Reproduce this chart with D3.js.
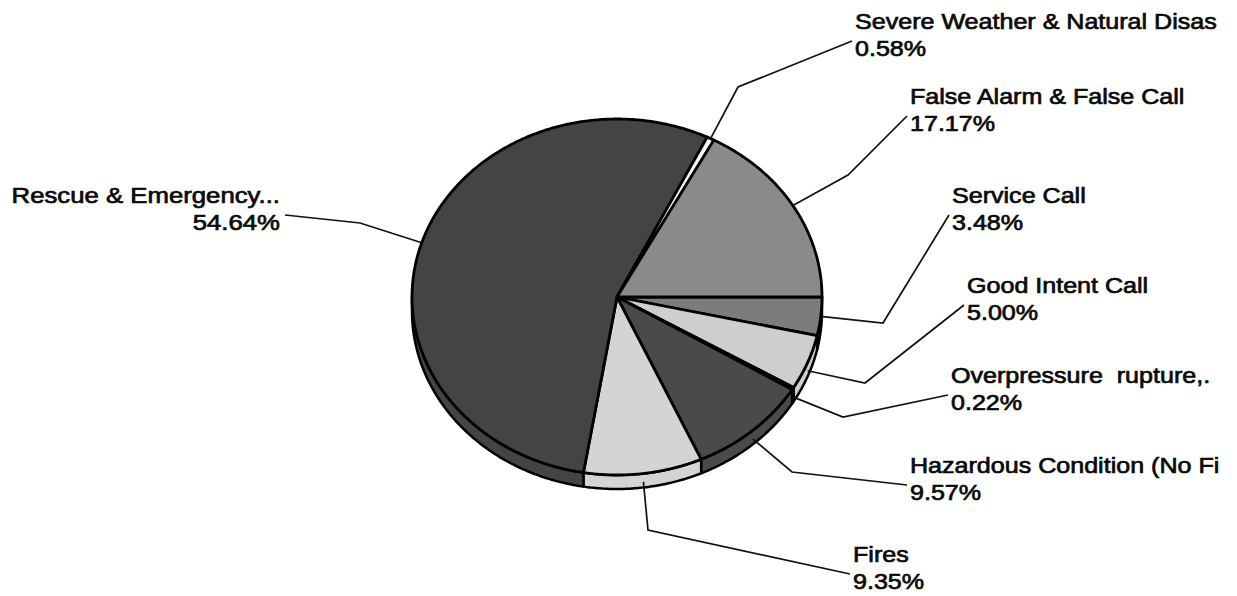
<!DOCTYPE html>
<html>
<head>
<meta charset="utf-8">
<script src="https://cdn.jsdelivr.net/npm/d3@7"></script>
<style>
  html, body { margin: 0; padding: 0; background: #fff; }
  svg { display: block; }
  text { font-family: "Liberation Sans", Arial, sans-serif; white-space: pre; }
</style>
</head>
<body>
<svg id="chart" width="1237" height="596"></svg>
<script>
// ---- data (clockwise from 3 o'clock) ----
const categories = [
  "Service Call",
  "Good Intent Call",
  "Overpressure  rupture,.",
  "Hazardous Condition (No Fi",
  "Fires",
  "Rescue & Emergency...",
  "Severe Weather & Natural Disas",
  "False Alarm & False Call"
];
const values = [3.48, 5.00, 0.22, 9.57, 9.35, 54.64, 0.58, 17.17];
const valueLabels = ["3.48%", "5.00%", "0.22%", "9.57%", "9.35%", "54.64%", "0.58%", "17.17%"];
const grays = ["#7c7c7c", "#cecece", "#9a9a9a", "#4a4a4a", "#d4d4d4", "#444444", "#f6f6f6", "#8a8a8a"];

// ---- layout ----
const cx = 617, cy = 297, rx = 205, ry = 178, depth = 14;
// label anchors: [x, name baseline, anchor]
const labelAnchors = [
  [952, 203, "start"], [967, 293, "start"], [951, 383, "start"], [910, 473, "start"],
  [853, 562, "start"], [280, 203, "end"], [855, 29, "start"], [910, 104, "start"]
];
const elbows = [
  [883, 323], [865, 383], [843, 417], [792, 472],
  [648, 530], [360, 223], [738, 87], [848, 175]
];
const lineGap = 27;
const hScales = [1.14, 1.14, 1.14, 1.14, 1.14, 1.17, 1.14, 1.14];

const svg = d3.select("#chart");
svg.append("rect").attr("width", 1237).attr("height", 596).attr("fill", "#fff");

const pie = d3.pie().sort(null).value(d => d).startAngle(Math.PI / 2).endAngle(Math.PI / 2 + 2 * Math.PI);
const arcs = pie(values);

const pt = (a, dy = 0, k = 1) => [cx + rx * k * Math.sin(a), cy - ry * k * Math.cos(a) + dy];
const line = d3.line();
const sample = (a0, a1, dy = 0) => {
  const n = Math.max(2, Math.ceil(Math.abs(a1 - a0) / 0.01));
  return d3.range(n + 1).map(i => pt(a0 + (a1 - a0) * i / n, dy));
};

// side walls (front half: a in [PI/2, 3PI/2])
const sides = svg.append("g");
arcs.forEach((d, i) => {
  const a0 = Math.max(d.startAngle, Math.PI / 2);
  const a1 = Math.min(d.endAngle, 3 * Math.PI / 2);
  if (a1 <= a0) return;
  const top = sample(a0, a1, 0);
  const bot = sample(a1, a0, depth);
  sides.append("path")
    .attr("d", line(top.concat(bot)) + "Z")
    .attr("fill", grays[i])
    .attr("stroke", "#000")
    .attr("stroke-width", 2.5)
    .attr("stroke-linejoin", "round");
});

// top faces
const tops = svg.append("g");
arcs.forEach((d, i) => {
  const pts = [[cx, cy]].concat(sample(d.startAngle, d.endAngle, 0));
  tops.append("path")
    .attr("d", line(pts) + "Z")
    .attr("fill", grays[i])
    .attr("stroke", "#000")
    .attr("stroke-width", 2.8)
    .attr("stroke-linejoin", "round");
});

// leader lines + labels
const labels = svg.append("g");
arcs.forEach((d, i) => {
  const mid = (d.startAngle + d.endAngle) / 2;
  const front = Math.cos(mid) < -0.3;
  const start = pt(mid, front ? depth * 0.6 : 0, 1.0);
  const [lx, ly, anchor] = labelAnchors[i];
  const end = anchor === "end" ? [lx + 5, ly + 12] : [lx - 3, ly + 12];
  labels.append("path")
    .attr("d", line([start, elbows[i], end]))
    .attr("fill", "none")
    .attr("stroke", "#111")
    .attr("stroke-width", 1.7);
  const g = labels.append("g").attr("transform", `translate(${lx},${ly}) scale(${hScales[i]},1)`);
  [categories[i], valueLabels[i]].forEach((t, j) => {
    g.append("text").attr("x", 0).attr("y", j * lineGap).attr("text-anchor", anchor)
      .attr("font-size", 22).attr("fill", "#0a0a0a").attr("stroke", "#0a0a0a").attr("stroke-width", 0.7)
      .text(t);
  });
});
</script>
</body>
</html>
